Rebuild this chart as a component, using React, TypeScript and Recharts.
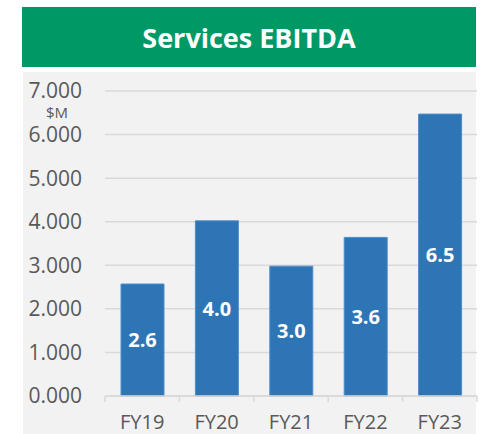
import { BarChart, Bar, XAxis, YAxis, CartesianGrid, LabelList } from "recharts";

const categories = ["FY19", "FY20", "FY21", "FY22", "FY23"];
const ebitda = [2.57, 4.02, 2.98, 3.64, 6.47];
const yTicks = [0, 1, 2, 3, 4, 5, 6, 7];

const data = categories.map((name, i) => ({ name, ebitda: ebitda[i] }));

const FONT = "'Open Sans', 'Noto Sans', sans-serif";
const TICK_MARGIN = 19;

// category axis ticks sit at the band edges, not the centres
const XTick = (props: any) => {
  const { x, y, payload, index, visibleTicksCount } = props;
  const half = payload && payload.offset ? payload.offset : 37.2;
  const axisY = y - TICK_MARGIN;
  const last = index === visibleTicksCount - 1;
  return (
    <g>
      <line x1={x - half} x2={x - half} y1={axisY} y2={axisY + 6} stroke="#D9D9D9" strokeWidth={1.5} />
      {last && <line x1={x + half} x2={x + half} y1={axisY} y2={axisY + 6} stroke="#D9D9D9" strokeWidth={1.5} />}
      <text x={x} y={y} dy="0.71em" textAnchor="middle" fill="#595959" fontSize={20} fontFamily={FONT}>
        {payload.value}
      </text>
    </g>
  );
};

export default function App() {
  return (
    <div style={{ position: "absolute", left: 0, top: 0, width: 482, height: 434, background: "#fff", overflow: "hidden" }}>
      <div
        style={{
          position: "absolute", left: 22, top: 7, width: 454, height: 60, background: "#009966",
          color: "#fff", fontFamily: FONT, fontWeight: 700, fontSize: 27,
          display: "flex", alignItems: "center", justifyContent: "center",
        }}
      >
        Services EBITDA
      </div>
      <div style={{ position: "absolute", left: 23, top: 72, width: 453, height: 362, background: "#F2F2F2" }} />
      <svg width={482} height={434} style={{ position: "absolute", left: 0, top: 0 }}>
        <text x={57} y={118} textAnchor="middle" fontFamily={FONT} fontSize={15} fill="#595959">
          $M
        </text>
      </svg>
      <div style={{ position: "absolute", left: 0, top: 0 }}>
        <BarChart width={482} height={434} data={data} margin={{ top: 91, right: 5, bottom: 0, left: 0 }}>
          <CartesianGrid vertical={false} stroke="#D9D9D9" strokeWidth={1.5} />
          <XAxis
            dataKey="name"
            height={38}
            axisLine={{ stroke: "#D9D9D9", strokeWidth: 1.5 }}
            tickLine={false}
            tickSize={0}
            tickMargin={TICK_MARGIN}
            tick={<XTick />}
            interval={0}
          />
          <YAxis
            width={105}
            domain={[0, 7]}
            ticks={yTicks}
            axisLine={false}
            tickLine={false}
            tickSize={0}
            tickMargin={23}
            tickFormatter={(v: number) => v.toFixed(3)}
            tick={{ fill: "#595959", fontSize: 21, fontFamily: FONT }}
          />
          <Bar dataKey="ebitda" fill="#2E75B6" stroke="#4F8CC9" strokeWidth={1} barSize={43} isAnimationActive={false}>
            <LabelList
              dataKey="ebitda"
              position="center"
              formatter={(v: any) => Number(v).toFixed(1)}
              fill="#fff"
              fontSize={20}
              fontWeight={700}
              fontFamily={FONT}
            />
          </Bar>
        </BarChart>
      </div>
    </div>
  );
}
